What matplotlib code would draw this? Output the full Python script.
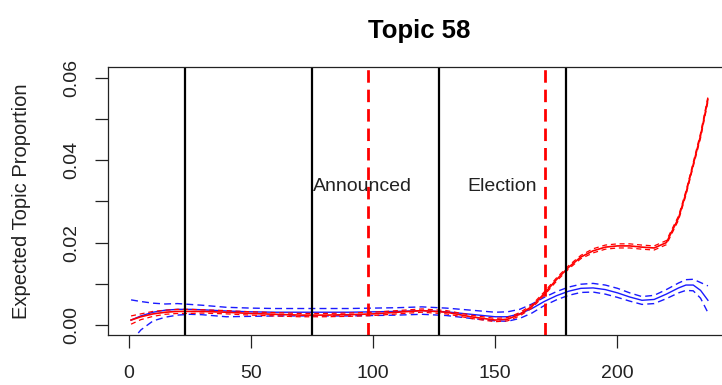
import numpy as np
import matplotlib
matplotlib.use("Agg")
import matplotlib.pyplot as plt

plt.rcParams['font.family'] = ['Liberation Sans', 'DejaVu Sans']

# time index at which values were read
days = [1, 5, 10, 15, 20, 25, 30, 40, 50, 60, 70, 80, 90, 100, 110, 120, 130,
        140, 150, 155, 160, 165, 170, 175, 180, 185, 190, 195, 200, 205, 210,
        215, 220, 225, 228, 231, 234, 237]

blue_mean = [0.0012, 0.0022, 0.0031, 0.0036, 0.0038, 0.0038, 0.0037, 0.0034,
             0.0032, 0.0031, 0.0031, 0.0031, 0.0031, 0.0032, 0.0033, 0.0035,
             0.0032, 0.0026, 0.0020, 0.0020, 0.0027, 0.0040, 0.0057, 0.0071,
             0.0082, 0.0089, 0.0090, 0.0086, 0.0078, 0.0068, 0.0060, 0.0062,
             0.0075, 0.0090, 0.0097, 0.0097, 0.0084, 0.0060]
blue_upper = [0.0061, 0.0057, 0.0053, 0.0051, 0.0052, 0.0050, 0.0048, 0.0043,
              0.0041, 0.0040, 0.0040, 0.0040, 0.0040, 0.0041, 0.0042, 0.0044,
              0.0041, 0.0036, 0.0031, 0.0032, 0.0038, 0.0051, 0.0067, 0.0081,
              0.0092, 0.0099, 0.0101, 0.0097, 0.0089, 0.0078, 0.0069, 0.0072,
              0.0086, 0.0102, 0.0110, 0.0111, 0.0103, 0.0095]
blue_lower = [-0.0040, -0.0012, 0.0010, 0.0019, 0.0024, 0.0026, 0.0025, 0.0020,
              0.0021, 0.0022, 0.0022, 0.0022, 0.0022, 0.0023, 0.0024, 0.0026,
              0.0023, 0.0016, 0.0010, 0.0009, 0.0016, 0.0029, 0.0047, 0.0061,
              0.0072, 0.0079, 0.0080, 0.0075, 0.0067, 0.0058, 0.0050, 0.0052,
              0.0064, 0.0078, 0.0084, 0.0083, 0.0065, 0.0030]

red_mean = [0.0012, 0.0020, 0.0027, 0.0031, 0.0033, 0.0033, 0.0033, 0.0031,
            0.0028, 0.0026, 0.0024, 0.0024, 0.0025, 0.0027, 0.0031, 0.0035,
            0.0031, 0.0020, 0.0012, 0.0014, 0.0026, 0.0045, 0.0076, 0.0110,
            0.0140, 0.0165, 0.0180, 0.0189, 0.0192, 0.0192, 0.0189, 0.0187,
            0.0200, 0.0260, 0.0320, 0.0390, 0.0460, 0.0548]
red_upper = [0.0022, 0.0027, 0.0033, 0.0036, 0.0038, 0.0038, 0.0037, 0.0035,
             0.0032, 0.0030, 0.0028, 0.0028, 0.0029, 0.0031, 0.0035, 0.0039,
             0.0035, 0.0024, 0.0016, 0.0018, 0.0030, 0.0049, 0.0080, 0.0114,
             0.0144, 0.0169, 0.0185, 0.0194, 0.0197, 0.0197, 0.0194, 0.0192,
             0.0205, 0.0265, 0.0325, 0.0395, 0.0466, 0.0554]
red_lower = [0.0002, 0.0013, 0.0021, 0.0026, 0.0028, 0.0028, 0.0029, 0.0027,
             0.0024, 0.0022, 0.0020, 0.0020, 0.0021, 0.0023, 0.0027, 0.0031,
             0.0027, 0.0016, 0.0008, 0.0010, 0.0022, 0.0041, 0.0072, 0.0106,
             0.0136, 0.0161, 0.0175, 0.0184, 0.0187, 0.0187, 0.0184, 0.0182,
             0.0195, 0.0255, 0.0315, 0.0385, 0.0454, 0.0542]

period_breaks = [23, 75, 127, 179]
events = [98, 170.5]
event_labels = ["Announced", "Election"]
event_label_x = [95.5, 153]
event_label_y = 0.0336

fig = plt.figure(figsize=(7.22, 3.85), dpi=100)
ax = fig.add_axes([108/722, 49.7/385, 623/722, 268.6/385])

ax.plot(days, blue_mean, color='#1a1aff', lw=1.0)
ax.plot(days, blue_upper, color='#1a1aff', lw=1.0, dashes=(5, 3))
ax.plot(days, blue_lower, color='#1a1aff', lw=1.0, dashes=(5, 3))
ax.plot(days, red_mean, color='red', lw=1.2)
ax.plot(days, red_upper, color='red', lw=0.9, dashes=(4, 3))
ax.plot(days, red_lower, color='red', lw=0.9, dashes=(4, 3))

for b in period_breaks:
    ax.axvline(b, color='black', lw=1.6)
for e in events:
    ax.axvline(e, color='red', lw=2.0, dashes=(4.5, 2.5))
for lab, lx in zip(event_labels, event_label_x):
    ax.text(lx, event_label_y, lab, ha='center', va='center', fontsize=14,
            color='#222222')

ax.set_xlim(-8.44, 246.44)
ax.set_ylim(-0.0025, 0.0627)
ax.set_xticks([0, 50, 100, 150, 200])
yt = [0.0, 0.01, 0.02, 0.03, 0.04, 0.05, 0.06]
ax.set_yticks(yt)
ax.set_yticklabels(['0.00', '', '0.02', '', '0.04', '', '0.06'])
ax.tick_params(axis='both', direction='out', length=9.4, width=0.9,
               labelsize=14, colors='#222222')
ax.tick_params(axis='x', pad=12)
ax.tick_params(axis='y', pad=10.5)
for lbl in ax.get_yticklabels():
    lbl.set_rotation(90)
    lbl.set_va('center')
for s in ax.spines.values():
    s.set_linewidth(0.9)
    s.set_color('#222222')

ax.set_title("Topic 58", fontsize=18.5, fontweight='bold', pad=21)
fig.text(22/722, 1 - 201.7/385, "Expected Topic Proportion", rotation=90,
         ha='center', va='center', fontsize=14.5, color='#222222')

fig.savefig("out.png", dpi=100)
